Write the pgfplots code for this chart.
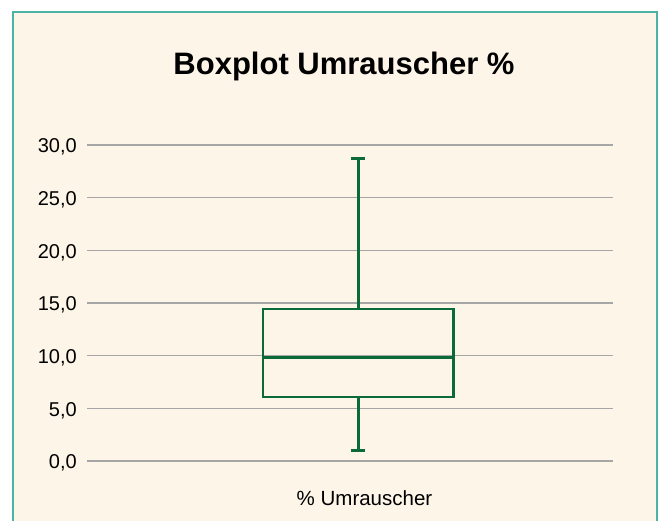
\documentclass[border=0pt]{standalone}
\usepackage{fontspec}
\setmainfont{Liberation Sans}
\usepackage{pgfplots}
\pgfplotsset{compat=1.18}
\definecolor{cream}{HTML}{FDF5E8}
\definecolor{frameteal}{HTML}{4DB3A5}
\definecolor{boxgreen}{HTML}{0B6B38}
\definecolor{gridgray}{HTML}{A6A6A6}
\tikzset{bx/.style={draw=boxgreen, line width=2.8bp, mark=none, line join=miter, line cap=rect}}
\begin{document}
\begin{tikzpicture}
\useasboundingbox (0bp,0bp) rectangle (665bp,521bp);
\fill[white] (0bp,0bp) rectangle (665bp,521bp);
\fill[cream] (13bp,0bp) rectangle (657bp,509bp);
\draw[frameteal, line width=2bp] (13bp,0bp) -- (13bp,509bp) -- (657bp,509bp) -- (657bp,0bp);
\node[anchor=base, inner sep=0pt, font=\bfseries\fontsize{31bp}{36bp}\selectfont] at (344bp,446.5bp) {Boxplot Umrauscher \%};
\node[anchor=base, inner sep=0pt, font=\fontsize{20.5bp}{24bp}\selectfont] at (364.5bp,16bp) {\% Umrauscher};
\begin{axis}[
  at={(87bp,60bp)}, anchor=south west,
  scale only axis, width=526bp, height=316bp,
  xmin=0, xmax=2, ymin=0, ymax=30,
  axis line style={draw=none},
  xtick=\empty,
  ytick={0,5,...,30},
  major tick length=0pt,
  ymajorgrids,
  grid style={color=gridgray, line width=1.2bp},
  yticklabel={\pgfmathprintnumber[fixed, fixed zerofill, precision=1, use comma, assume math mode=true]{\tick}},
  yticklabel style={anchor=base east, inner sep=0pt, xshift=-10bp, yshift=-8bp, font=\fontsize{20bp}{24bp}\selectfont},
  clip=false,
]
% box (Q1 = 6.08, Q3 = 14.43)
\addplot[bx] coordinates {(0.669,6.08) (1.395,6.08) (1.395,14.43) (0.669,14.43) (0.669,6.08)};
% median
\addplot[bx] coordinates {(0.669,9.85) (1.395,9.85)};
% whiskers
\addplot[bx] coordinates {(1.032,14.43) (1.032,28.7)};
\addplot[bx] coordinates {(1.032,6.08) (1.032,0.98)};
% caps
\addplot[bx] coordinates {(1.011,28.7) (1.053,28.7)};
\addplot[bx] coordinates {(1.011,0.98) (1.053,0.98)};
\end{axis}
\end{tikzpicture}
\end{document}
